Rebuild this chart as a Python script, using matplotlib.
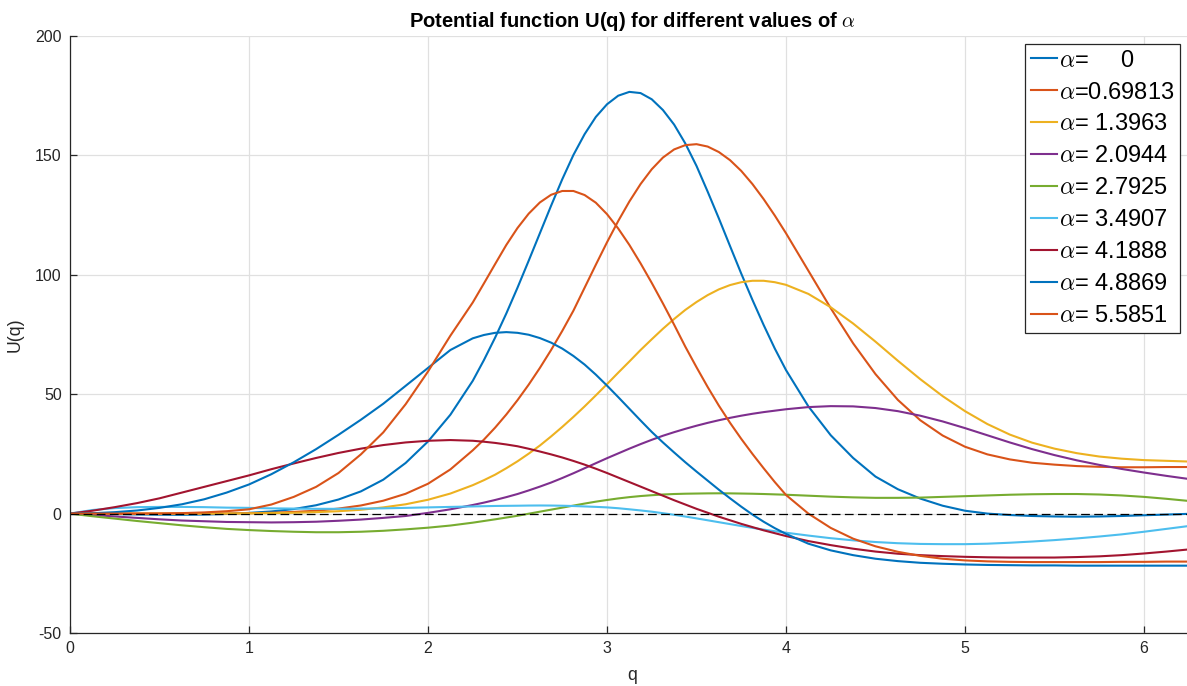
import numpy as np
import matplotlib
matplotlib.use('Agg')
import matplotlib.pyplot as plt

# q samples: every 1/8, every 1/16 around the peaks (2.25..4.0), then 2*pi
q = [0, 0.125, 0.25, 0.375, 0.5, 0.625, 0.75, 0.875,
     1.0, 1.125, 1.25, 1.375, 1.5, 1.625, 1.75, 1.875,
     2.0, 2.125,
     2.25, 2.3125, 2.375, 2.4375, 2.5, 2.5625, 2.625, 2.6875,
     2.75, 2.8125, 2.875, 2.9375, 3.0, 3.0625, 3.125, 3.1875,
     3.25, 3.3125, 3.375, 3.4375, 3.5, 3.5625, 3.625, 3.6875,
     3.75, 3.8125, 3.875, 3.9375, 4.0,
     4.125, 4.25, 4.375, 4.5, 4.625, 4.75, 4.875, 5.0,
     5.125, 5.25, 5.375, 5.5, 5.625, 5.75, 5.875, 6.0,
     6.125, 6.25, 6.2832]

alpha_labels = ['     0', '0.69813', ' 1.3963', ' 2.0944', ' 2.7925',
                ' 3.4907', ' 4.1888', ' 4.8869', ' 5.5851']

u_a0 = [0, -0.1, -0.2, -0.35, -0.45, -0.5, -0.4, -0.15,
        0.3, 0.9, 1.9, 3.5, 5.9, 9.3, 14.2, 21.2,
        30.2, 41.4,
        55.6, 64.3, 73.7, 83.8, 94.6, 105.9, 117.4, 128.9,
        140.0, 150.2, 158.9, 166.1, 171.4, 175.0, 176.6, 176.1,
        173.5, 169.0, 162.9, 155.0, 145.6, 134.8, 123.6, 112.0,
        100.5, 89.5, 79.0, 69.1, 60.1,
        44.9, 32.8, 23.3, 15.5, 10.2, 6.3, 3.3, 1.2,
        0.0, -0.6, -1.0, -1.2, -1.3, -1.2, -1.0, -0.7,
        -0.4, -0.1, 0.0]
u_a1 = [0, 0, 0, 0, 0, 0, 0, 0.05,
        0.15, 0.35, 0.7, 1.2, 2.1, 3.4, 5.4, 8.3,
        12.5, 18.5,
        26.5, 31.0, 36.0, 41.5, 47.5, 54.0, 61.0, 68.5,
        76.5, 85.0, 94.6, 104.2, 113.6, 122.5, 130.7, 138.0,
        144.2, 149.1, 152.5, 154.3, 154.7, 153.7, 151.4, 148.0,
        143.5, 138.0, 131.7, 124.8, 117.4,
        101.7, 86.0, 71.3, 58.4, 47.6, 39.1, 32.7, 28.0,
        24.8, 22.7, 21.3, 20.5, 19.9, 19.6, 19.4, 19.4,
        19.5, 19.5, 19.5]
u_a2 = [0, 0, 0, 0, 0, 0, 0, 0.05,
        0.1, 0.2, 0.35, 0.6, 1.0, 1.6, 2.6, 3.9,
        5.8, 8.4,
        11.9, 14.0, 16.3, 19.0, 21.9, 25.1, 28.5, 32.3,
        36.3, 40.5, 44.9, 49.5, 54.2, 59.0, 63.7, 68.5,
        73.0, 77.4, 81.5, 85.3, 88.6, 91.5, 93.9, 95.7,
        96.9, 97.5, 97.5, 96.9, 95.8,
        92.0, 86.4, 79.6, 72.0, 64.0, 56.3, 49.2, 42.9,
        37.5, 33.1, 29.7, 27.2, 25.3, 23.9, 23.0, 22.4,
        22.1, 21.8, 21.8]
u_a3 = [0, -0.6, -1.2, -1.8, -2.4, -2.9, -3.2, -3.5,
        -3.6, -3.7, -3.6, -3.4, -3.0, -2.5, -1.8, -1.0,
        0.3, 1.8,
        3.6, 4.6, 5.7, 6.9, 8.2, 9.7, 11.3, 13.0,
        14.9, 16.9, 19.0, 21.1, 23.2, 25.2, 27.2, 29.1,
        30.9, 32.6, 34.1, 35.5, 36.8, 38.0, 39.1, 40.1,
        41.0, 41.8, 42.5, 43.1, 43.7,
        44.6, 45.0, 44.9, 44.2, 42.9, 41.0, 38.6, 35.8,
        32.8, 29.8, 27.0, 24.5, 22.3, 20.4, 18.7, 17.2,
        15.8, 14.5, 14.1]
u_a4 = [0, -1.1, -2.1, -3.1, -4.0, -4.9, -5.7, -6.4,
        -6.9, -7.3, -7.6, -7.8, -7.8, -7.6, -7.2, -6.6,
        -5.9, -5.0,
        -3.8, -3.1, -2.4, -1.65, -0.9, -0.05, 0.8, 1.65,
        2.5, 3.35, 4.2, 5.0, 5.7, 6.35, 6.9, 7.35,
        7.7, 8.0, 8.2, 8.33, 8.4, 8.47, 8.5, 8.47,
        8.4, 8.32, 8.2, 8.05, 7.9,
        7.5, 7.1, 6.8, 6.6, 6.6, 6.7, 7.0, 7.3,
        7.6, 7.9, 8.1, 8.2, 8.2, 8.0, 7.6, 7.0,
        6.2, 5.3, 5.1]
u_a5 = [0, 1.5, 2.3, 2.7, 2.8, 2.8, 2.7, 2.5,
        2.4, 2.2, 2.1, 2.0, 2.0, 2.1, 2.2, 2.4,
        2.6, 2.8,
        3.0, 3.1, 3.2, 3.25, 3.3, 3.37, 3.4, 3.37,
        3.3, 3.17, 3.0, 2.82, 2.6, 2.25, 1.8, 1.32,
        0.8, 0.17, -0.5, -1.23, -2.0, -2.8, -3.6, -4.4,
        -5.2, -5.97, -6.7, -7.37, -8.0,
        -9.2, -10.3, -11.2, -11.9, -12.4, -12.7, -12.8, -12.8,
        -12.6, -12.2, -11.7, -11.1, -10.4, -9.6, -8.7, -7.6,
        -6.4, -5.2, -5.0]
u_a6 = [0, 1.2, 2.7, 4.4, 6.4, 8.8, 11.2, 13.6,
        16.0, 18.6, 21.0, 23.3, 25.4, 27.2, 28.7, 29.8,
        30.5, 30.8,
        30.5, 30.1, 29.6, 28.95, 28.2, 27.15, 26.0, 24.8,
        23.5, 22.05, 20.5, 18.8, 17.0, 15.1, 13.2, 11.3,
        9.4, 7.5, 5.6, 3.8, 2.0, 0.35, -1.3, -2.8,
        -4.3, -5.65, -7.0, -8.2, -9.4,
        -11.5, -13.2, -14.7, -15.9, -16.8, -17.4, -17.8, -18.1,
        -18.3, -18.4, -18.4, -18.4, -18.2, -17.9, -17.4, -16.7,
        -15.9, -15.0, -14.8]
u_a7 = [0, 0.15, 0.6, 1.3, 2.4, 3.9, 6.0, 8.8,
        12.2, 16.5, 21.5, 27.0, 33.0, 39.3, 46.0, 53.5,
        61.0, 68.5,
        73.4, 74.8, 75.7, 76.0, 75.7, 74.9, 73.5, 71.6,
        69.1, 66.0, 62.4, 58.2, 53.6, 48.8, 43.9, 39.0,
        34.2, 29.8, 25.6, 21.5, 17.6, 13.8, 10.0, 6.4,
        2.9, -0.4, -3.4, -6.1, -8.5,
        -12.6, -15.4, -17.4, -18.9, -19.9, -20.6, -21.0, -21.3,
        -21.5, -21.6, -21.7, -21.7, -21.8, -21.8, -21.8, -21.8,
        -21.8, -21.8, -21.8]
u_a8 = [0, 0, 0, 0, 0.05, 0.2, 0.5, 1.0,
        1.8, 3.8, 7.0, 11.2, 17.0, 24.8, 34.0, 45.8,
        59.5, 74.5,
        88.4, 96.4, 104.5, 112.5, 119.6, 125.6, 130.3, 133.5,
        135.1, 135.1, 133.4, 130.2, 125.4, 119.4, 112.5, 104.8,
        96.6, 88.0, 79.1, 69.9, 61.3, 53.0, 45.2, 38.0,
        31.3, 25.0, 19.0, 13.2, 7.8,
        0.0, -6.0, -10.5, -13.7, -16.0, -17.7, -18.9, -19.6,
        -20.0, -20.2, -20.3, -20.3, -20.3, -20.3, -20.2, -20.2,
        -20.1, -20.1, -20.1]

series = [u_a0, u_a1, u_a2, u_a3, u_a4, u_a5, u_a6, u_a7, u_a8]
colors = ['#0072BD', '#D95319', '#EDB120', '#7E2F8E', '#77AC30',
          '#4DBEEE', '#A2142F', '#0072BD', '#D95319']

plt.rcParams['font.family'] = ['Liberation Sans', 'DejaVu Sans']
plt.rcParams['mathtext.fontset'] = 'cm'
plt.rcParams['axes.unicode_minus'] = False

W, H = 1187, 686
fig = plt.figure(figsize=(W / 100, H / 100), dpi=100)
# q=0 sits at px 70, q=2*pi lands just past the right edge of the image
ax = fig.add_axes([70 / W, 53 / H, 2 * np.pi * 179 / W, 597 / H])

dark = '#262626'
for u, c, lab in zip(series, colors, alpha_labels):
    ax.plot(q, u, color=c, lw=1.5, label=r'$\alpha$=' + lab)
ax.axhline(0, color='k', lw=0.9, ls=(0, (7, 3.5)))

ax.set_xlim(0, 2 * np.pi)
ax.set_ylim(-50, 200)
ax.set_xticks(range(0, 7))
ax.set_yticks(range(-50, 201, 50))
ax.grid(True, color='#e0e0e0', lw=0.9)
ax.set_axisbelow(True)
for s in ['top', 'right']:
    ax.spines[s].set_visible(False)
for s in ['left', 'bottom']:
    ax.spines[s].set_color(dark)
    ax.spines[s].set_linewidth(0.9)
ax.tick_params(direction='in', length=5, width=0.9, colors=dark,
               labelsize=11.5, pad=6)

ax.set_xlabel('q', fontsize=12.7, color=dark, labelpad=8)
ax.set_ylabel('U(q)', fontsize=12.7, color=dark, labelpad=8)
ax.set_title(r'Potential function U(q) for different values of $\alpha$',
             fontsize=14.5, fontweight='bold', pad=6.5)

leg = ax.legend(loc='upper right', bbox_to_anchor=(0.987, 0.987),
                fontsize=17, fancybox=False, framealpha=1,
                edgecolor=dark, handlelength=1.1, handletextpad=0.1,
                labelspacing=0.42, borderpad=0.25, borderaxespad=0)
leg.get_frame().set_linewidth(0.9)

fig.savefig('out.png', dpi=100)
